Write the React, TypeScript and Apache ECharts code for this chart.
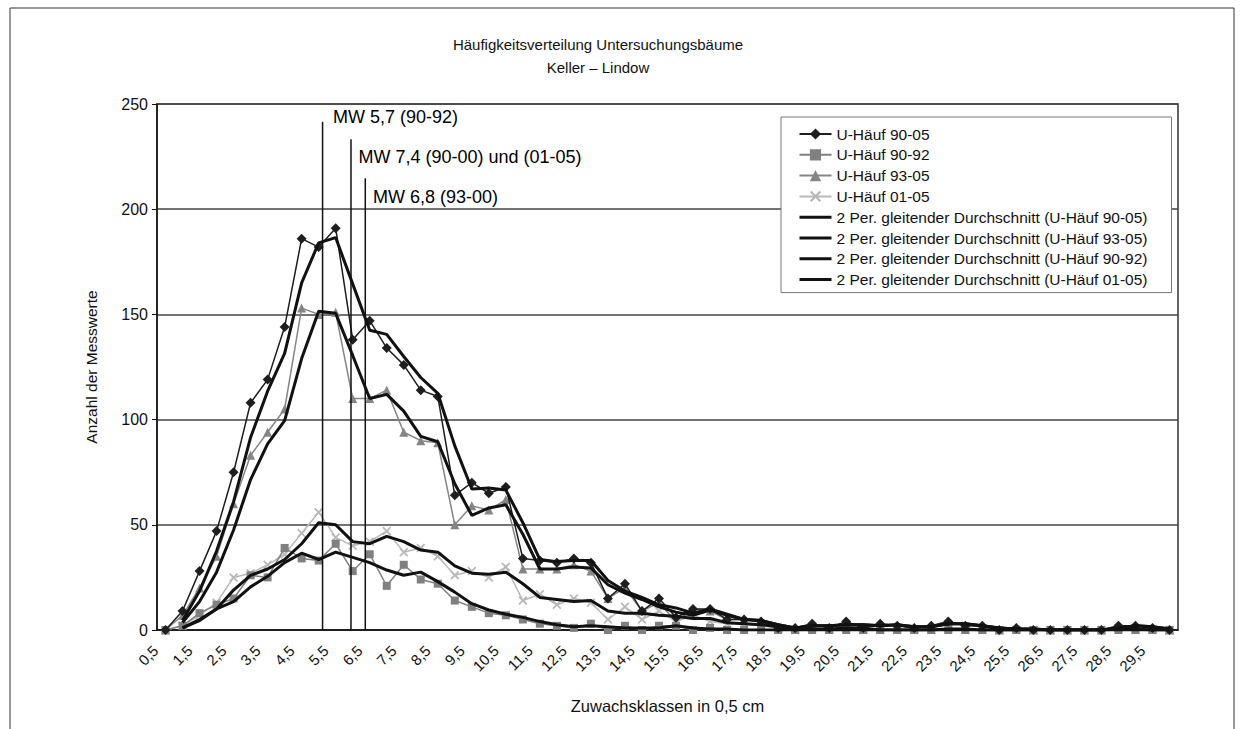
import React, { useEffect, useRef } from "react";
import * as echarts from "echarts";

const categories = [
  "0,5", "1", "1,5", "2", "2,5", "3", "3,5", "4", "4,5", "5",
  "5,5", "6", "6,5", "7", "7,5", "8", "8,5", "9", "9,5", "10",
  "10,5", "11", "11,5", "12", "12,5", "13", "13,5", "14", "14,5", "15",
  "15,5", "16", "16,5", "17", "17,5", "18", "18,5", "19", "19,5", "20",
  "20,5", "21", "21,5", "22", "22,5", "23", "23,5", "24", "24,5", "25",
  "25,5", "26", "26,5", "27", "27,5", "28", "28,5", "29", "29,5", "30",
];

const haeuf9005 = [
  0, 9, 28, 47, 75, 108, 119, 144, 186, 182,
  191, 138, 147, 134, 126, 114, 111, 64, 70, 65,
  68, 34, 33, 32, 34, 32, 15, 22, 9, 15,
  6, 10, 10, 5, 5, 4, 1, 1, 3, 1,
  4, 1, 3, 2, 1, 2, 4, 2, 2, 0,
  1, 0, 0, 0, 0, 0, 2, 2, 1, 0,
];

const haeuf9092 = [
  0, 2, 8, 12, 15, 26, 25, 39, 34, 33,
  41, 28, 36, 21, 31, 24, 22, 14, 11, 8,
  7, 5, 3, 2, 1, 3, 0, 2, 0, 2,
  2, 0, 1, 0, 0, 0, 0, 0, 0, 0,
  0, 0, 0, 0, 0, 0, 0, 0, 0, 0,
  0, 0, 0, 0, 0, 0, 0, 0, 0, 0,
];

const haeuf9305 = [
  0, 7, 20, 35, 60, 83, 94, 105, 153, 150,
  151, 110, 110, 114, 94, 90, 89, 50, 59, 57,
  62, 29, 29, 29, 31, 28, 15, 20, 9, 13,
  4, 10, 9, 5, 5, 4, 1, 1, 3, 1,
  4, 1, 3, 2, 1, 2, 4, 2, 2, 0,
  1, 0, 0, 0, 0, 0, 2, 2, 1, 0,
];

const haeuf0105 = [
  0, 2, 7, 13, 25, 27, 31, 36, 46, 56,
  44, 40, 42, 47, 37, 39, 35, 26, 28, 25,
  30, 14, 17, 12, 15, 13, 5, 11, 5, 9,
  4, 7, 4, 3, 3, 2, 1, 0, 1, 0,
  2, 0, 0, 0, 0, 0, 1, 0, 0, 0,
  0, 0, 0, 0, 0, 0, 1, 0, 0, 0,
];

// Mean-value marker lines (MW): position in category bands, top value
const mwLabels = ["MW 5,7 (90-92)", "MW 7,4 (90-00) und (01-05)", "MW 6,8 (93-00)"];
const mwLinePos = [9.73, 11.4, 12.24];
const mwLineTop = [241.6, 233.2, 214.7];
const mwLabelPos = [[10.34, 244], [11.84, 225], [12.69, 206]];

const yTicks = { min: 0, max: 250, interval: 50 };

function movingAvg2(a: number[]): (number | null)[] {
  return a.map((v, i) => (i === 0 ? null : (a[i - 1] + v) / 2));
}

const FONT = 'Arial, "Liberation Sans", sans-serif';
const crossPath =
  "path://M0,1.4L1.4,0L5,3.6L8.6,0L10,1.4L6.4,5L10,8.6L8.6,10L5,6.4L1.4,10L0,8.6L3.6,5Z";

export default function App() {
  const ref = useRef<HTMLDivElement>(null);
  useEffect(() => {
    if (!ref.current) return;
    const chart = echarts.init(ref.current, null, { renderer: "svg" });

    const maNames = [
      "2 Per. gleitender Durchschnitt (U-Häuf 90-05)",
      "2 Per. gleitender Durchschnitt (U-Häuf 93-05)",
      "2 Per. gleitender Durchschnitt (U-Häuf 90-92)",
      "2 Per. gleitender Durchschnitt (U-Häuf 01-05)",
    ];
    const maSources = [haeuf9005, haeuf9305, haeuf9092, haeuf0105];

    const rawSeries: any[] = [
      { name: "U-Häuf 90-05", data: haeuf9005, symbol: "diamond", symbolSize: 10, color: "#1e1e1e", z: 5 },
      { name: "U-Häuf 90-92", data: haeuf9092, symbol: "rect", symbolSize: 8, color: "#808080", z: 3 },
      { name: "U-Häuf 93-05", data: haeuf9305, symbol: "triangle", symbolSize: 9, color: "#858585", z: 3 },
      { name: "U-Häuf 01-05", data: haeuf0105, symbol: crossPath, symbolSize: 9, color: "#b8b8b8", z: 2 },
    ].map((s) => ({
      type: "line",
      name: s.name,
      data: s.data,
      symbol: s.symbol,
      symbolSize: s.symbolSize,
      showSymbol: true,
      itemStyle: { color: s.color },
      lineStyle: { color: s.color, width: 1.5 },
      z: s.z,
      silent: true,
    }));

    const maSeries: any[] = maNames.map((n, k) => ({
      type: "line",
      name: n,
      data: movingAvg2(maSources[k]),
      symbol: "none",
      itemStyle: { color: "#111", opacity: 0 },
      lineStyle: { color: "#111", width: 3 },
      z: 6,
      silent: true,
    }));

    const mwSeries: any[] = mwLinePos.map((p, k) => ({
      type: "line",
      name: "mw" + k,
      xAxisIndex: 1,
      data: [
        [p, 0],
        [p, mwLineTop[k]],
      ],
      symbol: "none",
      lineStyle: { color: "#111", width: 1.5 },
      z: 7,
      silent: true,
    }));

    const mwLabelSeries = {
      type: "scatter",
      name: "mwlabels",
      xAxisIndex: 1,
      symbolSize: 0,
      silent: true,
      itemStyle: { opacity: 1, color: "#000" },
      data: mwLabels.map((t, k) => ({ value: mwLabelPos[k], name: t })),
      label: {
        show: true,
        position: "right",
        distance: 0,
        formatter: (p: any) => p.name,
        fontSize: 18,
        color: "#000",
        opacity: 1,
        fontFamily: FONT,
      },
      z: 8,
    };

    const textStyleBase = {
      font: "15px " + FONT,
      fill: "#111",
      align: "center",
      verticalAlign: "middle",
      textAlign: "center",
      textVerticalAlign: "middle",
    };

    chart.setOption({
      animation: false,
      backgroundColor: "#fff",
      textStyle: { fontFamily: FONT },
      graphic: [
        {
          type: "rect",
          shape: { x: 10, y: 8, width: 1224, height: 760 },
          style: { fill: "none", stroke: "#333", lineWidth: 1 },
          silent: true,
          z: -10,
        },
        {
          type: "text",
          x: 598,
          y: 44,
          style: { ...textStyleBase, text: "Häufigkeitsverteilung Untersuchungsbäume" },
        },
        {
          type: "text",
          x: 598,
          y: 67,
          style: { ...textStyleBase, text: "Keller – Lindow" },
        },
      ],
      grid: {
        left: 157,
        top: 104,
        width: 1021,
        height: 526,
        show: true,
        borderColor: "#333",
        borderWidth: 1.5,
        backgroundColor: "#fff",
      },
      legend: {
        orient: "vertical",
        left: 781,
        top: 117,
        padding: [9, 24, 5, 17],
        itemGap: 4.8,
        itemWidth: 32,
        itemHeight: 14,
        borderColor: "#777",
        borderWidth: 1,
        backgroundColor: "#fff",
        textStyle: { fontSize: 15.5, color: "#111", fontFamily: FONT },
        data: [
          "U-Häuf 90-05",
          "U-Häuf 90-92",
          "U-Häuf 93-05",
          "U-Häuf 01-05",
          ...maNames.map((n) => ({
            name: n,
            itemStyle: { opacity: 0 },
            lineStyle: { width: 3, color: "#111" },
          })),
        ],
      },
      xAxis: [
        {
          type: "category",
          data: categories,
          boundaryGap: true,
          axisLine: { lineStyle: { color: "#111", width: 1.5 } },
          axisTick: { interval: 0, length: 5, lineStyle: { color: "#111" } },
          axisLabel: {
            interval: 1,
            rotate: 45,
            fontSize: 15,
            color: "#111",
            margin: 8,
            padding: [0, 14, 0, 0],
          },
          splitLine: { show: false },
          name: "Zuwachsklassen in 0,5 cm",
          nameLocation: "middle",
          nameGap: 67,
          nameTextStyle: { fontSize: 16.5, color: "#111" },
        },
        { type: "value", min: 0, max: categories.length, show: false },
      ],
      yAxis: {
        type: "value",
        min: yTicks.min,
        max: yTicks.max,
        interval: yTicks.interval,
        axisLine: { show: true, lineStyle: { color: "#111", width: 1.5 } },
        axisTick: { show: true, length: 5, lineStyle: { color: "#111" } },
        axisLabel: { fontSize: 16, color: "#111", margin: 9 },
        splitLine: { lineStyle: { color: "#444", width: 1.5 } },
        name: "Anzahl der Messwerte",
        nameLocation: "middle",
        nameGap: 58,
        nameTextStyle: { fontSize: 15.5, color: "#111" },
      },
      series: [...rawSeries, ...maSeries, ...mwSeries, mwLabelSeries],
    });
    return () => chart.dispose();
  }, []);
  return (
    <div
      ref={ref}
      style={{ position: "fixed", left: 0, top: 0, width: 1244, height: 729 }}
    />
  );
}
